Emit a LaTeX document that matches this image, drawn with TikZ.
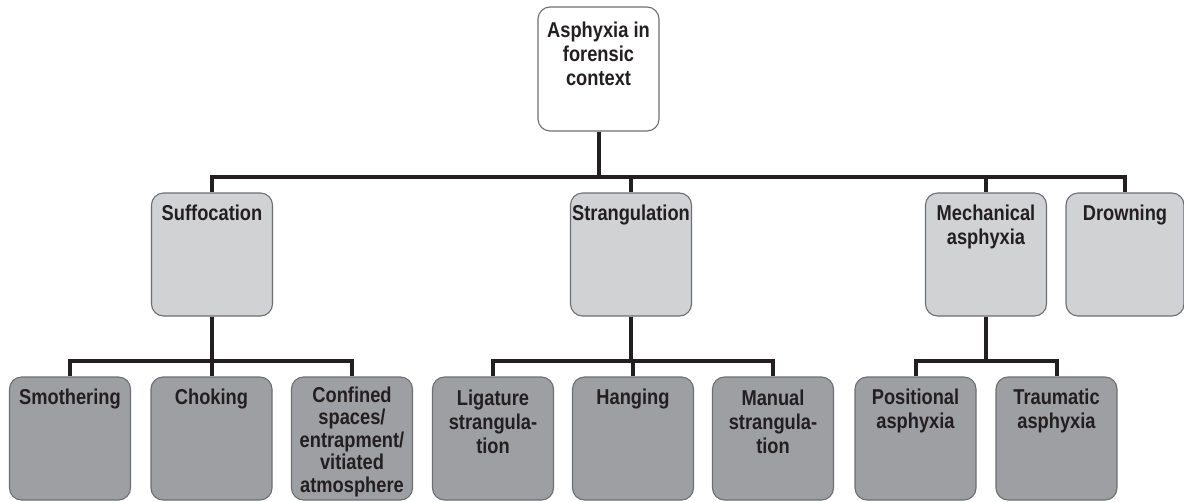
\documentclass[tikz,border=0pt]{standalone}
\usepackage{fontspec}
\setmainfont{Liberation Sans}[FakeStretch=0.85]
\usetikzlibrary{calc}
\definecolor{ink}{HTML}{231F20}
\definecolor{lvltwo}{HTML}{D1D2D4}
\definecolor{lvlthree}{HTML}{9D9FA2}
\definecolor{edgegray}{HTML}{6D6E71}
\begin{document}
\begin{tikzpicture}[x=1pt,y=-1pt,
  box/.style={draw=edgegray, line width=1.1pt, rounded corners=12pt, minimum width=121pt, minimum height=123pt, inner sep=0pt},
  topbox/.style={box, fill=white, minimum height=124pt},
  midbox/.style={box, fill=lvltwo},
  lowbox/.style={box, fill=lvlthree},
  lbl/.style={anchor=north, inner sep=0pt, align=center, text=ink, font=\fontsize{21.5}{24}\selectfont\bfseries},
  conn/.style={draw=ink, line width=4pt}]
\useasboundingbox (0,0) rectangle (1184,501);

% boxes
\node[topbox] (root) at (598.5,69) {};
\node[midbox] (suf) at (212,254.5) {};
\node[midbox] (str) at (631,254.5) {};
\node[midbox] (mec) at (986,254.5) {};
\node[midbox, minimum width=118pt] (drw) at (1125,254.5) {};

\node[lowbox] (smo) at (70,438.5) {};
\node[lowbox] (cho) at (211.5,438.5) {};
\node[lowbox] (con) at (352,438.5) {};
\node[lowbox] (lig) at (493,438.5) {};
\node[lowbox] (han) at (633,438.5) {};
\node[lowbox] (man) at (773,438.5) {};
\node[lowbox] (pos) at (915.5,438.5) {};
\node[lowbox] (tra) at (1056.5,438.5) {};

% labels
\node[lbl] (rootT) at ($(root.north)+(0,15.5)$) {Asphyxia in\\forensic\\context};
\node[lbl] (sufT) at ($(suf.north)+(0,12)$) {Suffocation};
\node[lbl] (strT) at ($(str.north)+(0,12)$) {Strangulation};
\node[lbl] (mecT) at ($(mec.north)+(0,12)$) {Mechanical\\asphyxia};
\node[lbl] (drwT) at ($(drw.north)+(0,12)$) {Drowning};
\node[lbl] (smoT) at ($(smo.north)+(0,12)$) {Smothering};
\node[lbl] (choT) at ($(cho.north)+(0,12)$) {Choking};
\node[lbl, font=\fontsize{21.5}{22.5}\selectfont\bfseries] (conT) at ($(con.north)+(0,10)$) {Confined\\spaces/\\entrapment/\\vitiated\\atmosphere};
\node[lbl] (ligT) at ($(lig.north)+(0,13)$) {Ligature\\strangula-\\tion};
\node[lbl] (hanT) at ($(han.north)+(0,12)$) {Hanging};
\node[lbl] (manT) at ($(man.north)+(0,13)$) {Manual\\strangula-\\tion};
\node[lbl] (posT) at ($(pos.north)+(0,12)$) {Positional\\asphyxia};
\node[lbl] (traT) at ($(tra.north)+(0,12)$) {Traumatic\\asphyxia};

% bus coordinates
\coordinate (bus0) at (598.5,177);
\coordinate (bus1) at (212,361);
\coordinate (bus2) at (631,361);
\coordinate (bus3) at (986,361);

% connectors
\foreach \c in {suf,str,mec,drw}
  \draw[conn] (root.south) |- (\c.north |- bus0) -- (\c.north);
\foreach \c in {smo,cho,con}
  \draw[conn] (suf.south) |- (\c.north |- bus1) -- (\c.north);
\foreach \c in {lig,han,man}
  \draw[conn] (str.south) |- (\c.north |- bus2) -- (\c.north);
\foreach \c in {pos,tra}
  \draw[conn] (mec.south) |- (\c.north |- bus3) -- (\c.north);
\end{tikzpicture}
\end{document}
